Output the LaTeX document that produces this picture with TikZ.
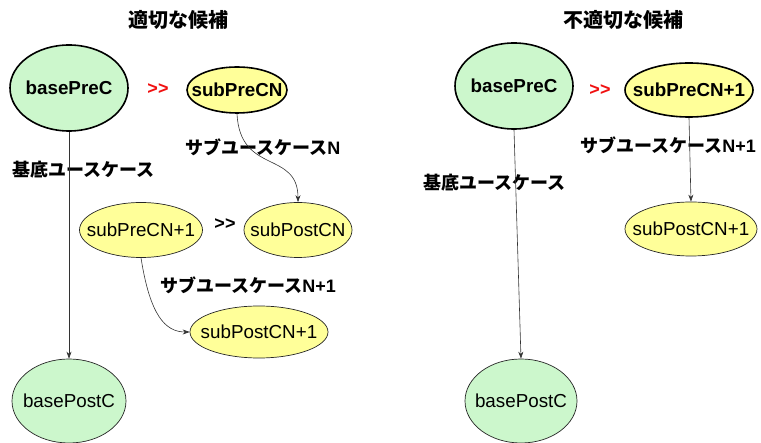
\documentclass[tikz,border=0pt]{standalone}
\usepackage{fontspec}
\setmainfont{Liberation Sans}
\newfontfamily\jp{Noto Sans CJK JP}
\usetikzlibrary{shapes.geometric,arrows.meta}
\definecolor{basegreen}{HTML}{CCF7CC}
\definecolor{subyellow}{HTML}{FFFF99}
\definecolor{relred}{HTML}{F01010}
% text that does not widen its ellipse
\newcommand{\ucname}[1]{\makebox[0pt]{#1}}
\tikzset{
  uc/.style={ellipse, draw=black!85, line width=0.7pt, inner sep=0pt,
    font=\fontsize{18.8}{20}\selectfont},
  base/.style={uc, fill=basegreen},
  sub/.style={uc, fill=subyellow},
  strong/.style={line width=1.6pt, draw=black, font=\fontsize{18.8}{20}\selectfont\bfseries},
  lbl/.style={inner sep=0pt, anchor=west, font=\fontsize{18}{20}\selectfont\bfseries},
  ttl/.style={inner sep=0pt, font=\fontsize{20}{22}\selectfont\bfseries\jp},
  rel/.style={inner sep=0pt, font=\fontsize{18}{20}\selectfont\bfseries},
  flow/.style={draw=black!80, line width=0.6pt, -{Stealth[length=7pt,width=5pt]}},
}
\begin{document}
\begin{tikzpicture}[x=1pt,y=-1pt]
\useasboundingbox (0,0) rectangle (761,443);

% ---- left: suitable candidate ----
\node[ttl] (t1) at (178,20) {適切な候補};
\node[base,strong,minimum width=118pt,minimum height=86pt] (bpre1) at (69,88) {\ucname{basePreC}};
\node[rel,text=relred] (gt1) at (158,89) {>{}>};
\node[sub,strong,minimum width=100pt,minimum height=46pt] (spn1) at (237,90) {\ucname{subPreCN}};
\node[sub,minimum width=123pt,minimum height=55pt] (spn11) at (141,230) {\ucname{subPreCN+1}};
\node[rel] (gt2) at (225,224) {>{}>};
\node[sub,minimum width=108pt,minimum height=55pt] (spo1) at (298,230) {\ucname{subPostCN}};
\node[sub,minimum width=138pt,minimum height=52pt] (spo11) at (259,332) {\ucname{subPostCN+1}};
\node[base,minimum width=114pt,minimum height=84pt] (bpo1) at (69,401) {\ucname{basePostC}};

\node[lbl] (l1) at (185,147) {{\jp サブユースケース}N};
\node[lbl] (l2) at (12,170) {\jp 基底ユースケース};
\node[lbl] (l3) at (160,285) {{\jp サブユースケース}N+1};

\draw[flow] (bpre1.south) -- (bpo1.north);
\draw[flow] (spn1.south) .. controls (240,175) and (298,150) .. (spo1.north);
\draw[flow] (spn11.south) .. controls (150,315) and (165,332) .. (spo11.west);

% ---- right: unsuitable candidate ----
\node[ttl] (t2) at (623,20) {不適切な候補};
\node[base,strong,minimum width=118pt,minimum height=86pt] (bpre2) at (514,86) {\ucname{basePreC}};
\node[rel,text=relred] (gt3) at (600,90) {>{}>};
\node[sub,strong,minimum width=128pt,minimum height=54pt] (spn2) at (689,90) {\ucname{subPreCN+1}};
\node[sub,minimum width=132pt,minimum height=54pt] (spo2) at (691,229) {\ucname{subPostCN+1}};
\node[base,minimum width=112pt,minimum height=84pt] (bpo2) at (521,401) {\ucname{basePostC}};

\node[lbl] (l4) at (580,145) {{\jp サブユースケース}N+1};
\node[lbl] (l5) at (423,183) {\jp 基底ユースケース};

\draw[flow] (bpre2.south) -- (bpo2.north);
\draw[flow] (spn2.south) -- (spo2.north);
\end{tikzpicture}
\end{document}
